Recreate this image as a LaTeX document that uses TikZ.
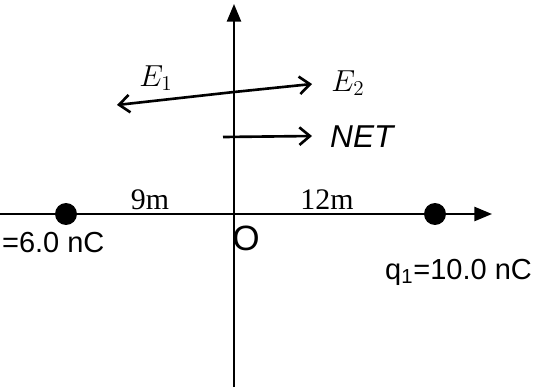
\documentclass[tikz,border=0pt]{standalone}
\usepackage{fontspec}
\setmainfont{Liberation Serif}
\setsansfont{Liberation Sans}
\usetikzlibrary{positioning,arrows.meta}

\begin{document}
\begin{tikzpicture}[x=0.02cm,y=0.02cm,
		axis/.style={line width=1.2pt,-{Triangle[length=10pt,width=8pt]}},
		charge/.style={circle,fill=black,inner sep=0pt,minimum size=12.5pt},
		field/.style={line width=1.5pt,-{Straight Barb[length=6pt,width=10pt]}},
		dist/.style={font=\fontsize{17}{19}\selectfont},
		qlabel/.style={font=\sffamily\fontsize{16.5}{19}\selectfont},
		hand/.style={font=\sffamily\itshape\fontsize{18}{20}\selectfont}]
		
		\useasboundingbox
		(0,0)
		rectangle
		(534,387);
		
		\coordinate (o) at (234,173);
		\coordinate (ybot) at (234,0);
		\coordinate (ytop) at (234,383);
		\coordinate (xleft) at (0,173);
		\coordinate (xright) at (492,173);
		
		\draw[axis]
		(ybot)
		--
		(ytop);
		
		\draw[axis]
		(xleft)
		--
		(xright);
		
		\node[charge] (q2) at (66,173) {};
		
		\node[charge] (q1) at (435,173) {};
		
		\node[dist] (d9) at (150,187) {9m};
		
		\node[dist] (d12) at (327,187) {12m};
		
		\node[qlabel,font=\sffamily\fontsize{20}{22}\selectfont] (olabel) at (246,149) {O};
		
		\node[qlabel,anchor=west,inner sep=1pt] (q2label) at (0,144) {=6.0 nC};
		
		\node[qlabel,anchor=east,inner sep=1pt] (q1label) at (534,115) {q\textsubscript{1}=10.0 nC};
		
		% field arrows at the point on the axis
		\coordinate (ecross) at (234,295);
		\coordinate (e1tip) at (117,282);
		\coordinate (e2tip) at (312,303);
		\coordinate (netstart) at (223,250);
		\coordinate (nettip) at (312,251);
		
		\draw[field]
		(ecross)
		--
		(e1tip);
		
		\draw[field]
		(ecross)
		--
		(e2tip);
		
		\draw[field]
		(netstart)
		--
		(nettip);
		
		\node[hand] (e1label) at (156,309) {$E_1$};
		
		\node[hand] (e2label) at (348,304) {$E_2$};
		
		\node[hand,anchor=west] (netlabel) at (324,250) {NET};
		
	\end{tikzpicture}
\end{document}
